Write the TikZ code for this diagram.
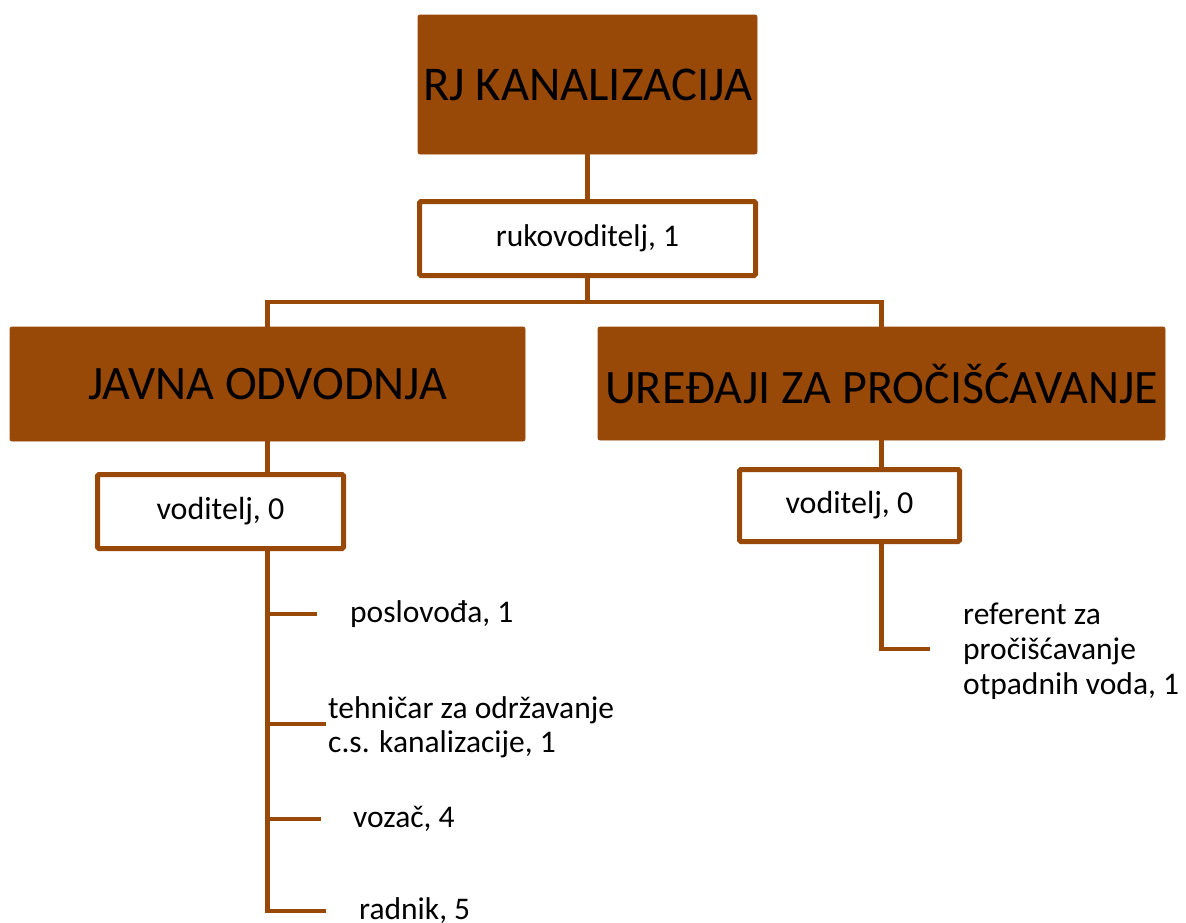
\documentclass[tikz,border=0pt]{standalone}
\usepackage{fontspec}
\setmainfont{Carlito}
\definecolor{brn}{HTML}{984807}
\begin{document}
\begin{tikzpicture}[x=1pt,y=-1pt,
  brownbox/.style={fill=brn,draw=brn,line width=0.8pt,rounded corners=2pt,inner sep=0pt,text=black},
  whitebox/.style={fill=white,draw=brn,line width=5pt,rounded corners=1.5pt,inner sep=0pt,text=black},
  conn/.style={draw=brn,line width=4.5pt},
  lbl/.style={anchor=west,inner sep=0pt,align=left,font=\fontsize{31.5}{34}\selectfont}]
\useasboundingbox (0,0) rectangle (1186,922);
% main boxes
\node[brownbox,minimum width=339pt,minimum height=139pt,font=\fontsize{48.5}{56}\selectfont] (rj) at (587.5,84.5) {RJ KANALIZACIJA};
\node[whitebox,minimum width=336pt,minimum height=74pt,font=\fontsize{31.5}{35}\selectfont] (ruk) at (587.5,238.5) {rukovoditelj, 1};
\node[brownbox,minimum width=515pt,minimum height=114pt,font=\fontsize{48}{56}\selectfont] (javna) at (267.5,384) {JAVNA ODVODNJA};
\node[brownbox,minimum width=567pt,minimum height=113pt,font=\fontsize{48}{56}\selectfont] (ured) at (881.5,383.5) {UREĐAJI ZA PROČIŠĆAVANJE};
\node[whitebox,minimum width=246pt,minimum height=74pt,font=\fontsize{32}{38}\selectfont] (vodA) at (220.5,511.5) {voditelj, 0};
\node[whitebox,minimum width=220pt,minimum height=72pt,font=\fontsize{32}{38}\selectfont] (vodB) at (849.5,505.5) {voditelj, 0};
% bus coordinates
\coordinate (bus) at (587.5,302);
\coordinate (spineA) at (268,911);
\coordinate (bA1) at (317,614);
\coordinate (bA2) at (326,724);
\coordinate (bA3) at (321,819);
\coordinate (bA4) at (326,911);
\coordinate (bB1) at (930,649);
% labels
\node[lbl] (l1) at (350,614) {poslovođa, 1};
\node[lbl] (l2) at (328,727) {tehničar za održavanje\\c.s. kanalizacije, 1};
\node[lbl] (l3) at (353,819) {vozač, 4};
\node[lbl] (l4) at (359,911) {radnik, 5};
\node[lbl,font=\fontsize{31.5}{35}\selectfont] (l5) at (963,651) {referent za\\pročišćavanje\\otpadnih voda, 1};
% connectors
\draw[conn] (rj.south) -- (ruk.north);
\draw[conn] (ruk.south) -- (bus);
\draw[conn] (javna.north) |- (bus) -| (ured.north);
\draw[conn] (javna.south) -- (javna.south |- vodA.north);
\draw[conn] (ured.south) -- (ured.south |- vodB.north);
\draw[conn] (javna.south |- vodA.south) -- (javna.south |- spineA) -- (bA4);
\draw[conn] (bA1 -| javna.south) -- (bA1);
\draw[conn] (bA2 -| javna.south) -- (bA2);
\draw[conn] (bA3 -| javna.south) -- (bA3);
\draw[conn] (ured.south |- vodB.south) -- (ured.south |- bB1) -- (bB1);
\end{tikzpicture}
\end{document}
